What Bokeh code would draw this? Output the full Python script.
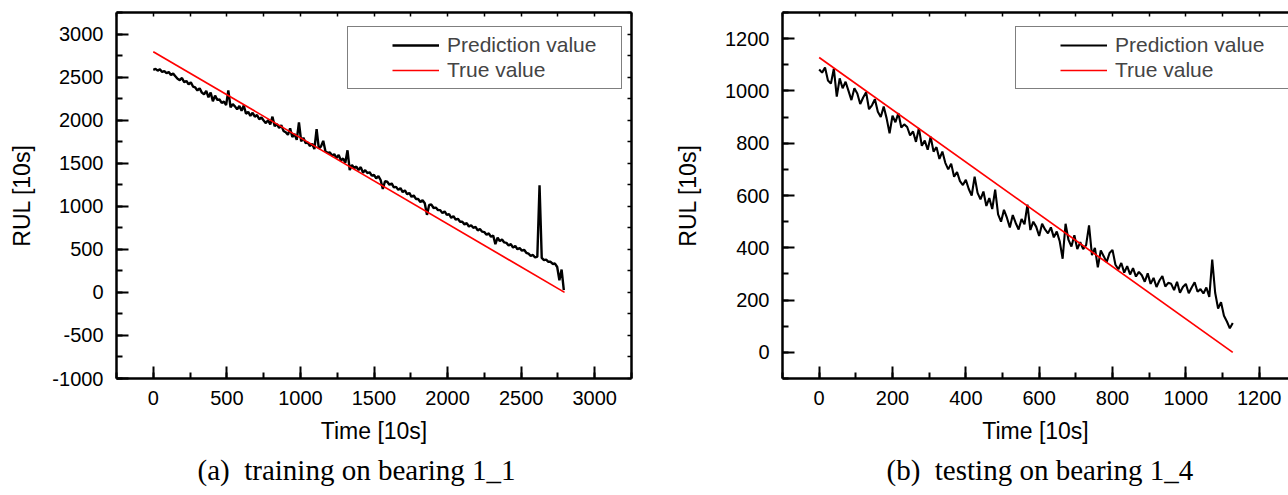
import numpy as np
from bokeh.plotting import figure
from bokeh.models import (Range1d, SingleIntervalTicker, LinearAxis, Legend, LegendItem,
                          Title, CustomJSTickFormatter)
from bokeh.layouts import row
from bokeh.embed import file_html
from bokeh.resources import INLINE

# ---------------- data: (a) training on bearing 1_1 ----------------
train_time = np.arange(0, 2791, 15)
train_pred = [
    2585, 2595, 2575, 2590, 2560, 2570, 2545, 2560, 2525, 2540,
    2510, 2480, 2465, 2490, 2440, 2455, 2415, 2440, 2390, 2380,
    2345, 2370, 2320, 2300, 2340, 2265, 2320, 2220, 2285, 2235,
    2240, 2200, 2215, 2175, 2345, 2150, 2185, 2160, 2125, 2165,
    2110, 2170, 2075, 2095, 2050, 2085, 2040, 2060, 2010, 2030,
    1995, 1965, 2000, 1950, 2040, 1930, 1955, 1910, 1940, 1875,
    1860, 1830, 1905, 1805, 1840, 1770, 1975, 1755, 1795, 1735,
    1740, 1700, 1725, 1665, 1895, 1670, 1695, 1760, 1640, 1620,
    1625, 1590, 1605, 1560, 1595, 1530, 1555, 1505, 1650, 1420,
    1480, 1445, 1460, 1420, 1455, 1390, 1420, 1385, 1395, 1355,
    1365, 1325, 1350, 1305, 1200, 1290, 1285, 1250, 1265, 1220,
    1225, 1190, 1210, 1165, 1185, 1140, 1155, 1110, 1125, 1085,
    1085, 1050, 1070, 1035, 900, 1015, 1020, 980, 985, 955,
    955, 920, 940, 900, 910, 865, 885, 845, 855, 820,
    820, 790, 805, 765, 780, 750, 760, 720, 735, 705,
    700, 670, 685, 645, 660, 560, 635, 595, 615, 580,
    575, 545, 560, 520, 540, 500, 515, 485, 495, 460,
    450, 425, 435, 405, 415, 1245, 400, 375, 380, 355,
    355, 330, 335, 295, 140, 265, 25,
]
train_true_time = [0, 2795]
train_true = [2795, 0]

# ---------------- data: (b) testing on bearing 1_4 ----------------
test_time = np.arange(0, 1129, 8)
test_pred = [
    1082, 1070, 1090, 1040, 1028, 1085, 978, 1048, 1010, 1035,
    1000, 965, 1010, 990, 950, 975, 995, 930, 945, 968,
    920, 900, 940, 895, 838, 905, 880, 915, 860, 872,
    862, 830, 845, 805, 858, 790, 810, 775, 825, 768,
    785, 740, 768, 725, 700, 722, 672, 690, 655, 640,
    660, 625, 600, 672, 610, 585, 615, 560, 590, 548,
    622, 528, 500, 545, 515, 478, 525, 495, 470, 510,
    490, 565, 468, 500, 480, 445, 492, 470, 455, 478,
    440, 462, 425, 358, 492, 430, 405, 448, 395, 422,
    395, 410, 486, 372, 400, 325, 390, 368, 345, 380,
    392, 335, 318, 342, 305, 330, 298, 322, 290, 308,
    295, 270, 302, 262, 285, 250, 275, 292, 252, 266,
    262, 238, 270, 228, 250, 262, 226, 248, 268, 232,
    242, 225, 248, 212, 355, 228, 168, 192, 140, 118,
    92, 112,
]
test_true_time = [0, 1128]
test_true = [1128, 0]

FONT = "Liberation Sans"
SERIF = "Liberation Serif"


def blank_axis(ticker):
    ax = LinearAxis(ticker=ticker, formatter=CustomJSTickFormatter(code="return ''"))
    ax.axis_line_width = 2.5
    ax.major_tick_in = 4
    ax.major_tick_out = 0
    ax.minor_tick_in = 0
    ax.minor_tick_out = 0
    ax.major_tick_line_width = 1.5
    ax.major_label_text_font_size = "1px"
    ax.major_label_standoff = 0
    return ax


def main_axis(ticker, label):
    ax = LinearAxis(ticker=ticker, axis_label=label,
                    formatter=CustomJSTickFormatter(code="return tick.toFixed(0)"))
    ax.axis_line_width = 2.5
    ax.major_tick_in = 12
    ax.major_tick_out = 0
    ax.minor_tick_in = 6
    ax.minor_tick_out = 0
    ax.major_tick_line_width = 2
    ax.minor_tick_line_width = 2
    ax.major_label_text_font = FONT
    ax.major_label_text_font_size = "20px"
    ax.major_label_text_color = "black"
    ax.major_label_standoff = 12
    ax.axis_label_text_font = FONT
    ax.axis_label_text_font_size = "23px"
    ax.axis_label_text_font_style = "normal"
    ax.axis_label_text_color = "black"
    return ax


def make_panel(width, border_left, border_right, xr, yr, xmaj, ymaj, top_int, right_int,
               time, pred, ttime, tval, caption, cap_offset, legend_x, ylab_standoff, pred_w):
    p = figure(width=width, height=495, x_range=Range1d(*xr), y_range=Range1d(*yr),
               toolbar_location=None, output_backend="svg",
               x_axis_type=None, y_axis_type=None)
    p.min_border_left = border_left
    p.min_border_right = border_right
    p.min_border_top = 12
    p.min_border_bottom = 117
    p.outline_line_color = None
    p.xgrid.visible = False
    p.ygrid.visible = False
    p.background_fill_color = "white"
    p.border_fill_color = "white"

    xa = main_axis(SingleIntervalTicker(interval=xmaj, num_minor_ticks=2), "Time [10s]")
    xa.axis_label_standoff = 10
    p.add_layout(xa, "below")
    ya = main_axis(SingleIntervalTicker(interval=ymaj, num_minor_ticks=2), "RUL [10s]")
    ya.major_label_standoff = 13
    ya.axis_label_standoff = ylab_standoff
    p.add_layout(ya, "left")
    p.add_layout(blank_axis(SingleIntervalTicker(interval=top_int, num_minor_ticks=0)), "above")
    if right_int:
        p.add_layout(blank_axis(SingleIntervalTicker(interval=right_int, num_minor_ticks=0)), "right")

    r_pred = p.line(time, pred, line_color="black", line_width=pred_w)
    r_true = p.line(ttime, tval, line_color="#ff0000", line_width=1.7)

    leg = Legend(items=[LegendItem(label="Prediction value", renderers=[r_pred]),
                        LegendItem(label="True value", renderers=[r_true])],
                 location=(legend_x, 289))
    leg.border_line_color = "black"
    leg.border_line_width = 1.5
    leg.background_fill_color = "white"
    leg.background_fill_alpha = 1
    leg.label_text_font = FONT
    leg.label_text_font_size = "21px"
    leg.glyph_width = 47
    leg.glyph_height = 22
    leg.label_height = 22
    leg.label_standoff = 8
    leg.label_width = 168
    leg.spacing = 1
    leg.padding = 6
    leg.margin = 0
    if "title_location" in Legend.properties():
        leg.title = " "
        leg.title_location = "left"
        leg.title_text_font_size = "16px"
        leg.title_standoff = 20
    p.add_layout(leg)

    cap = Title(text=caption, align="left", offset=cap_offset)
    cap.text_font = SERIF
    cap.text_font_size = "29px"
    cap.text_font_style = "normal"
    cap.text_color = "black"
    cap.standoff = 10
    p.add_layout(cap, "below")
    return p


p1 = make_panel(640, 116, 9, (-250, 3250), (-1000, 3250), 500, 500, 250, 250,
                train_time, train_pred, train_true_time, train_true,
                "(a)\u2002training on bearing 1_1", 81, 231, 14, 2.4)
p2 = make_panel(648, 142, 0, (-100, 1280), (-100, 1300), 200, 200, 100, None,
                test_time, test_pred, test_true_time, test_true,
                "(b)\u2002testing on bearing 1_4", 104, 233, 21, 2.1)

layout = row(p1, p2)
open("out.html", "w").write(file_html(layout, INLINE))
